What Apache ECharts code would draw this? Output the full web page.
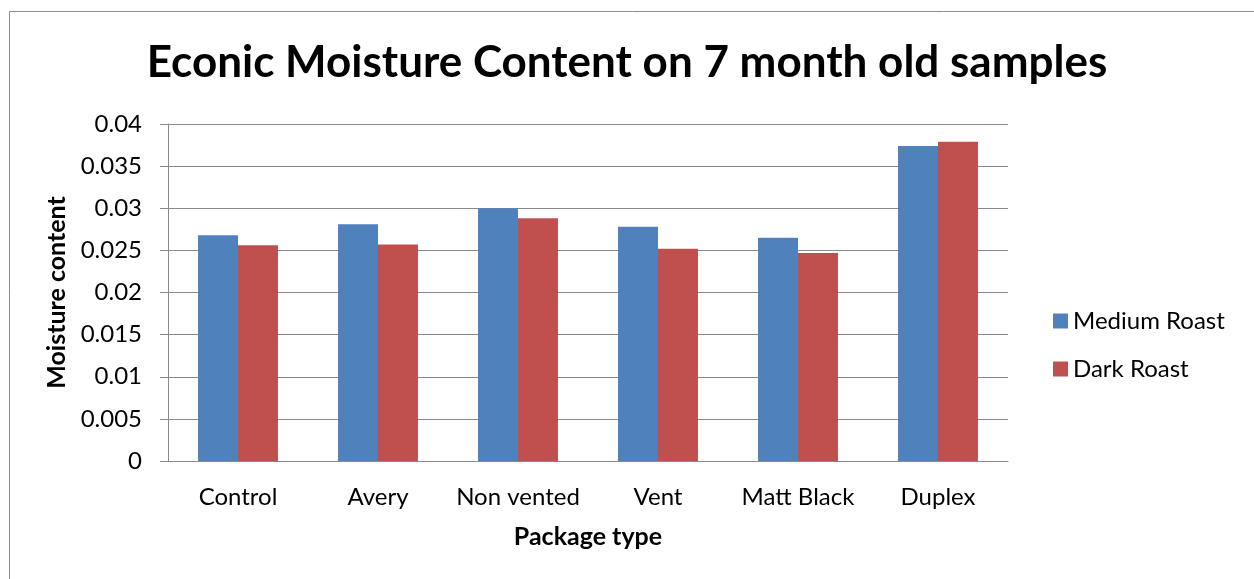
<!DOCTYPE html>
<html>
<head>
<meta charset="utf-8">
<script src="https://cdn.jsdelivr.net/npm/echarts@6/dist/echarts.min.js"></script>
<style>
  html, body { margin: 0; padding: 0; background: #fff; }
  #chart { width: 1254px; height: 579px; }
</style>
</head>
<body>
<div id="chart"></div>
<script>
var categories = ['Control', 'Avery', 'Non vented', 'Vent', 'Matt Black', 'Duplex'];
var mediumRoast = [0.0268, 0.0281, 0.0300, 0.0278, 0.0265, 0.0374];
var darkRoast = [0.0256, 0.0257, 0.0288, 0.0252, 0.0247, 0.0379];

var chart = echarts.init(document.getElementById('chart'));
var fontFamily = 'Lato';
var gridColor = '#8a8a8a';

var option = {
    backgroundColor: '#fff',
    color: ['#4F81BD', '#C0504D'],
    animation: false,
    textStyle: { fontFamily: fontFamily },
    title: {
        text: 'Econic Moisture Content on 7 month old samples',
        left: 'center',
        top: 36,
        textStyle: {
            fontFamily: fontFamily,
            fontSize: 44,
            fontWeight: 'bold',
            color: '#000'
        }
    },
    // outer frame, only top/left edges fall inside the picture
    graphic: [{
        type: 'rect',
        shape: { x: 9.5, y: 11.5, width: 1260, height: 600 },
        style: { fill: 'none', stroke: '#8c8c8c', lineWidth: 1 }
    }],
    legend: {
        orient: 'vertical',
        left: 1048,
        top: 304,
        itemWidth: 15,
        itemHeight: 15,
        itemGap: 24,
        icon: 'rect',
        textStyle: { fontFamily: fontFamily, fontSize: 24, color: '#000' },
        data: ['Medium Roast', 'Dark Roast']
    },
    grid: {
        left: 168,
        top: 124,
        width: 840,
        height: 337,
        containLabel: false
    },
    xAxis: {
        type: 'category',
        data: categories,
        name: 'Package type',
        nameLocation: 'middle',
        nameGap: 63,
        nameTextStyle: { fontFamily: fontFamily, fontSize: 25, fontWeight: 'bold', color: '#000' },
        axisLine: { lineStyle: { color: gridColor, width: 1 } },
        axisTick: { show: false },
        axisLabel: { interval: 0, fontFamily: fontFamily, fontSize: 24, color: '#000', margin: 24 }
    },
    yAxis: {
        type: 'value',
        min: 0,
        max: 0.04,
        interval: 0.005,
        name: 'Moisture content',
        nameLocation: 'middle',
        nameGap: 97,
        nameTextStyle: { fontFamily: fontFamily, fontSize: 25, fontWeight: 'bold', color: '#000' },
        axisLine: { show: true, lineStyle: { color: gridColor, width: 1 } },
        axisTick: { show: true, length: 8, lineStyle: { color: gridColor } },
        axisLabel: { fontFamily: fontFamily, fontSize: 24, color: '#000', margin: 26 },
        splitLine: { show: true, lineStyle: { color: gridColor, width: 1 } }
    },
    series: [{
        name: 'Medium Roast',
        type: 'bar',
        data: mediumRoast,
        barGap: '0%',
        barCategoryGap: '42.9%'
    }, {
        name: 'Dark Roast',
        type: 'bar',
        data: darkRoast
    }]
};

chart.setOption(option);
</script>
</body>
</html>
